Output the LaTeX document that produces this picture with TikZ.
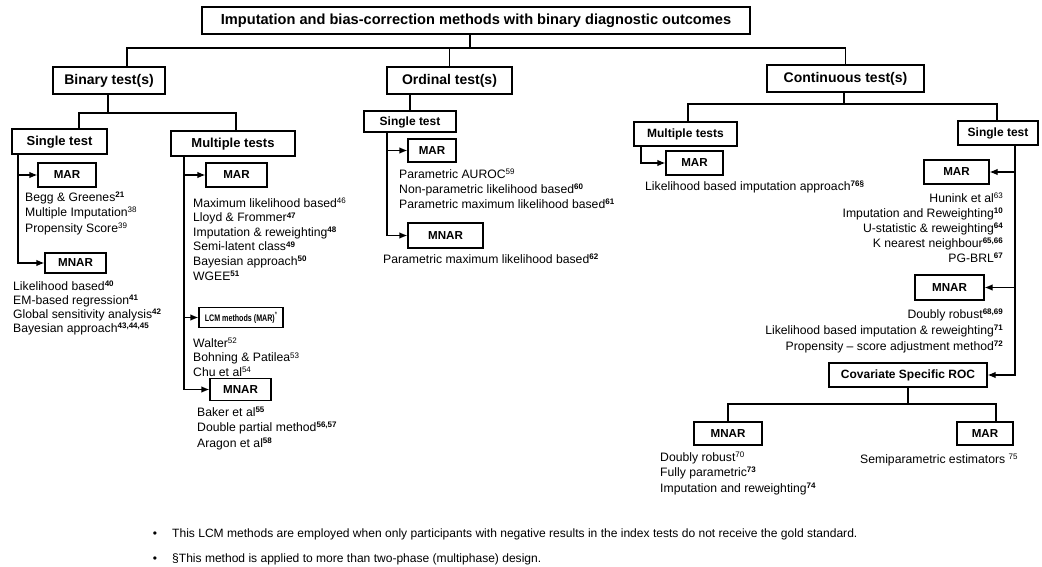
\documentclass[tikz,border=0pt]{standalone}
\usepackage{fontspec}
\usepackage{graphicx}
\setmainfont{Liberation Sans}
\usetikzlibrary{arrows.meta}
\newcommand\rsup[1]{\raisebox{3.6pt}{\fontsize{8}{8}\selectfont\mdseries #1}}
\newcommand\bsup[1]{\raisebox{3.6pt}{\fontsize{8}{8}\selectfont\bfseries #1}}
\begin{document}
\begin{tikzpicture}[x=1pt,y=-1pt,
  box/.style={draw, line width=1.2pt, inner sep=0pt, text height=0.72em, text depth=0pt},
  big/.style={box, font=\fontsize{14}{16}\selectfont\bfseries},
  mid/.style={box, font=\fontsize{13}{15}\selectfont\bfseries},
  sm/.style={box, font=\fontsize{12}{14}\selectfont\bfseries},
  mar/.style={box, font=\fontsize{11.6}{14}\selectfont\bfseries},
  ln/.style={line width=1.2pt},
  arr/.style={ln, -{Latex[length=8pt,width=6.5pt]}},
  txt/.style={inner sep=0pt, align=left, font=\fontsize{12.2}{#1}\selectfont},
  rtxt/.style={inner sep=0pt, align=right, font=\fontsize{12.2}{#1}\selectfont},
  fn/.style={inner sep=0pt, font=\fontsize{12.05}{14}\selectfont}
]
\useasboundingbox (0,0) rectangle (1042,567);

% boxes
\node[box, font=\fontsize{14.6}{16}\selectfont\bfseries, minimum width=548pt, minimum height=27pt] (title) at (476,20.5) {Imputation and bias-correction methods with binary diagnostic outcomes};
\node[big, minimum width=112pt, minimum height=27pt] (binary) at (109,80.5) {Binary test(s)};
\node[big, minimum width=125pt, minimum height=27pt] (ordinal) at (449.5,80.5) {Ordinal test(s)};
\node[big, minimum width=157pt, minimum height=27pt] (continuous) at (845.5,78.5) {Continuous test(s)};

\node[mid, minimum width=95pt, minimum height=25pt] (b_single) at (59.5,141.5) {Single test};
\node[mid, minimum width=124pt, minimum height=25pt] (b_multi) at (233,143.5) {Multiple tests};
\node[mar, minimum width=58pt, minimum height=24pt] (b_s_mar) at (67,175) {MAR};
\node[mar, minimum width=61pt, minimum height=20pt] (b_s_mnar) at (75.5,263) {MNAR};
\node[mar, minimum width=61pt, minimum height=24pt] (b_m_mar) at (236.5,175) {MAR};
\node[box, font=\fontsize{9.5}{11}\selectfont\bfseries, minimum width=84pt, minimum height=20pt] (lcm) at (241,317.5) {\scalebox{0.75}[1]{LCM methods (MAR)\rsup{*}}};
\node[mar, minimum width=61pt, minimum height=22pt] (b_m_mnar) at (240.5,389.5) {MNAR};

\node[sm, minimum width=92pt, minimum height=21pt] (o_single) at (410,121.5) {Single test};
\node[mar, minimum width=48pt, minimum height=23pt] (o_mar) at (432,150.5) {MAR};
\node[mar, minimum width=75pt, minimum height=25pt] (o_mnar) at (445.5,235.5) {MNAR};

\node[sm, minimum width=103pt, minimum height=24pt] (c_multi) at (685.5,134) {Multiple tests};
\node[sm, minimum width=80pt, minimum height=24pt] (c_single) at (998,133) {Single test};
\node[mar, minimum width=57pt, minimum height=24pt] (c_m_mar) at (694.5,163) {MAR};
\node[mar, minimum width=65pt, minimum height=24pt] (c_s_mar) at (956.5,172) {MAR};
\node[mar, minimum width=69pt, minimum height=25pt] (c_s_mnar) at (949.5,287.5) {MNAR};
\node[sm, minimum width=158pt, minimum height=24pt] (cov) at (908,375) {Covariate Specific ROC};
\node[mar, minimum width=68pt, minimum height=23pt] (cov_mnar) at (728,433.5) {MNAR};
\node[mar, minimum width=56pt, minimum height=23pt] (cov_mar) at (985,433.5) {MAR};

% connectors
\coordinate (tj) at (470,48);
\coordinate (bx) at (127,48);
\draw[ln] (tj |- title.south) -- (tj);
\draw[ln] (bx |- binary.north) -- (bx) -| (continuous.north);
\draw[ln] (ordinal.north) -- (ordinal.north |- bx);

\coordinate (bj) at (108,113);
\coordinate (bl) at (79,113);
\coordinate (br) at (236,113);
\draw[ln] (bj |- binary.south) -- (bj);
\draw[ln] (bl |- b_single.north) -- (bl) -- (br) -- (br |- b_multi.north);

\coordinate (bsl) at (18,0);
\draw[arr] (bsl |- b_single.south) |- (b_s_mnar.west);
\draw[arr] (bsl |- b_s_mar.west) -- (b_s_mar.west);

\coordinate (bml) at (184,0);
\draw[arr] (bml |- b_multi.south) |- (b_m_mnar.west);
\draw[arr] (bml |- b_m_mar.west) -- (b_m_mar.west);
\draw[arr] (bml |- lcm.west) -- (lcm.west);

\draw[ln] (o_single.north) -- (o_single.north |- ordinal.south);
\coordinate (osl) at (387,0);
\draw[arr] (osl |- o_single.south) |- (o_mnar.west);
\draw[arr] (osl |- o_mar.west) -- (o_mar.west);

\coordinate (cj) at (844,104);
\coordinate (cl) at (688,104);
\coordinate (cr) at (997,104);
\draw[ln] (cj |- continuous.south) -- (cj);
\draw[ln] (cl |- c_multi.north) -- (cl) -- (cr) -- (cr |- c_single.north);
\coordinate (cml) at (641,0);
\draw[arr] (cml |- c_multi.south) |- (c_m_mar.west);
\coordinate (csr) at (1015,0);
\draw[arr] (csr |- c_single.south) |- (cov.east);
\draw[arr] (csr |- c_s_mar.east) -- (c_s_mar.east);
\draw[arr] (csr |- c_s_mnar.east) -- (c_s_mnar.east);

\coordinate (vj) at (908,404);
\coordinate (vl) at (728,404);
\coordinate (vr) at (996,404);
\draw[ln] (cov.south) -- (vj);
\draw[ln] (vl |- cov_mnar.north) -- (vl) -- (vr) -- (vr |- cov_mar.north);

% texts (base anchor = baseline of last line)
\node[txt=15.5, anchor=base west] (t1) at (25,232) {Begg \& Greenes\bsup{21}\\Multiple Imputation\rsup{38}\\Propensity Score\rsup{39}};
\node[txt=14, anchor=base west] (t2) at (13,332) {Likelihood based\bsup{40}\\EM-based regression\bsup{41}\\Global sensitivity analysis\bsup{42}\\Bayesian approach\bsup{43,44,45}};
\node[txt=14.6, anchor=base west] (t3) at (193,280) {Maximum likelihood based\rsup{46}\\Lloyd \& Frommer\bsup{47}\\Imputation \& reweighting\bsup{48}\\Semi-latent class\bsup{49}\\Bayesian approach\bsup{50}\\WGEE\bsup{51}};
\node[txt=14.3, anchor=base west] (t4) at (193,376) {Walter\rsup{52}\\Bohning \& Patilea\rsup{53}\\Chu et al\rsup{54}};
\node[txt=15.5, anchor=base west] (t5) at (197,447) {Baker et al\bsup{55}\\Double partial method\bsup{56,57}\\Aragon et al\bsup{58}};
\node[txt=15, anchor=base west] (t6) at (399,208) {Parametric AUROC\rsup{59}\\Non-parametric likelihood based\bsup{60}\\Parametric maximum likelihood based\bsup{61}};
\node[txt=15, anchor=base west] (t7) at (383,263) {Parametric maximum likelihood based\bsup{62}};
\node[txt=15, anchor=base west] (t8) at (645,190) {Likelihood based imputation approach\bsup{76§}};
\node[rtxt=15, anchor=base east] (t9) at (1003,262) {Hunink et al\rsup{63}\\Imputation and Reweighting\bsup{10}\\U-statistic \& reweighting\bsup{64}\\K nearest neighbour\bsup{65,66}\\PG-BRL\bsup{67}};
\node[rtxt=16, anchor=base east] (t10) at (1003,350) {Doubly robust\bsup{68,69}\\Likelihood based imputation \& reweighting\bsup{71}\\Propensity – score adjustment method\bsup{72}};
\node[txt=15.5, anchor=base west] (t11) at (660,492) {Doubly robust\rsup{70}\\Fully parametric\bsup{73}\\Imputation and reweighting\bsup{74}};
\node[txt=15, anchor=base west] (t12) at (860,463) {Semiparametric estimators \rsup{75}};

% footnotes
\node[fn, anchor=base] (bul1) at (155,537) {•};
\node[fn, anchor=base west] (fn1) at (172,537) {This LCM methods are employed when only participants with negative results in the index tests do not receive the gold standard.};
\node[fn, anchor=base] (bul2) at (155,562) {•};
\node[fn, anchor=base west] (fn2) at (172,562) {§This method is applied to more than two-phase (multiphase) design.};
\end{tikzpicture}
\end{document}
